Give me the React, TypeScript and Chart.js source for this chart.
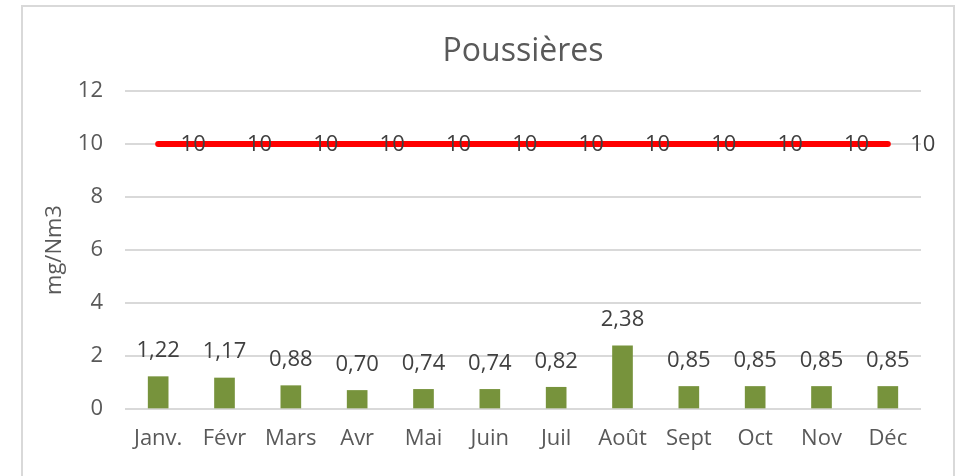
import React, { useEffect, useRef } from "react";
import { Chart, registerables } from "chart.js";

Chart.register(...registerables);

const months = ["Janv.", "Févr", "Mars", "Avr", "Mai", "Juin", "Juil", "Août", "Sept", "Oct", "Nov", "Déc"];
const dustValues = [1.22, 1.17, 0.88, 0.7, 0.74, 0.74, 0.82, 2.38, 0.85, 0.85, 0.85, 0.85];
const limitValues = [10, 10, 10, 10, 10, 10, 10, 10, 10, 10, 10, 10];
const yTicks = [0, 2, 4, 6, 8, 10, 12];

const FONT = "'Open Sans', 'Liberation Sans', sans-serif";

const decor = {
  id: "decor",
  beforeDraw(chart: any) {
    const ctx = chart.ctx;
    ctx.save();
    ctx.fillStyle = "#ffffff";
    ctx.fillRect(0, 0, chart.width, chart.height);
    ctx.strokeStyle = "#d9d9d9";
    ctx.lineWidth = 2;
    ctx.strokeRect(22, 6, 932, 480);
    ctx.restore();
  },
  afterDraw(chart: any) {
    const ctx = chart.ctx;
    const area = chart.chartArea;
    ctx.save();
    ctx.fillStyle = "#595959";
    ctx.font = `32px ${FONT}`;
    ctx.textAlign = "center";
    ctx.textBaseline = "middle";
    ctx.fillText("Poussières", (area.left + area.right) / 2, 52);

    ctx.font = `22px ${FONT}`;
    ctx.fillStyle = "#404040";
    const barMeta = chart.getDatasetMeta(0);
    barMeta.data.forEach((el: any, i: number) => {
      const v = dustValues[i];
      ctx.fillText(v.toFixed(2).replace(".", ","), el.x, el.y - 26);
    });
    const lineMeta = chart.getDatasetMeta(1);
    lineMeta.data.forEach((el: any, i: number) => {
      ctx.fillText(String(limitValues[i]), el.x + 35, el.y + 1);
    });
    ctx.restore();
  },
};

export default function App() {
  const ref = useRef<HTMLCanvasElement | null>(null);
  useEffect(() => {
    if (!ref.current) return;
    const chart = new Chart(ref.current, {
      type: "bar",
      data: {
        labels: months,
        datasets: [
          {
            type: "bar",
            label: "Poussières",
            data: dustValues,
            backgroundColor: "#77933C",
            barThickness: 20,
            order: 2,
          },
          {
            type: "line",
            label: "VLE",
            data: limitValues,
            borderColor: "#FF0000",
            borderWidth: 6,
            borderCapStyle: "round",
            pointRadius: 0,
            fill: false,
            order: 1,
          } as any,
        ],
      },
      options: {
        responsive: false,
        animation: false,
        devicePixelRatio: 1,
        layout: { padding: { top: 91, right: 41, bottom: 0, left: 0 } },
        plugins: {
          legend: { display: false },
          title: { display: false },
          tooltip: { enabled: false },
        },
        scales: {
          x: {
            offset: true,
            grid: { display: false, drawTicks: false },
            border: { display: false },
            ticks: {
              color: "#595959",
              font: { family: FONT, size: 22 },
              padding: 17,
              maxRotation: 0,
              autoSkip: false,
            },
            afterFit(scale: any) {
              scale.height = 67;
            },
          },
          y: {
            min: 0,
            max: 12,
            afterBuildTicks(scale: any) {
              scale.ticks = yTicks.map((v) => ({ value: v }));
            },
            grid: { color: "#d9d9d9", lineWidth: 2, drawTicks: false },
            border: { display: false },
            ticks: {
              color: "#595959",
              font: { family: FONT, size: 22 },
              padding: 22,
            },
            title: {
              display: true,
              text: "mg/Nm3",
              color: "#595959",
              font: { family: FONT, size: 22 },
              padding: { top: 42, bottom: 0 },
            },
            afterFit(scale: any) {
              scale.width = 125;
            },
          },
        },
      } as any,
      plugins: [decor],
    });
    return () => chart.destroy();
  }, []);
  return (
    <div style={{ position: "absolute", left: 0, top: 0, width: 962, height: 476 }}>
      <canvas ref={ref} width={962} height={476} style={{ display: "block" }} />
    </div>
  );
}
